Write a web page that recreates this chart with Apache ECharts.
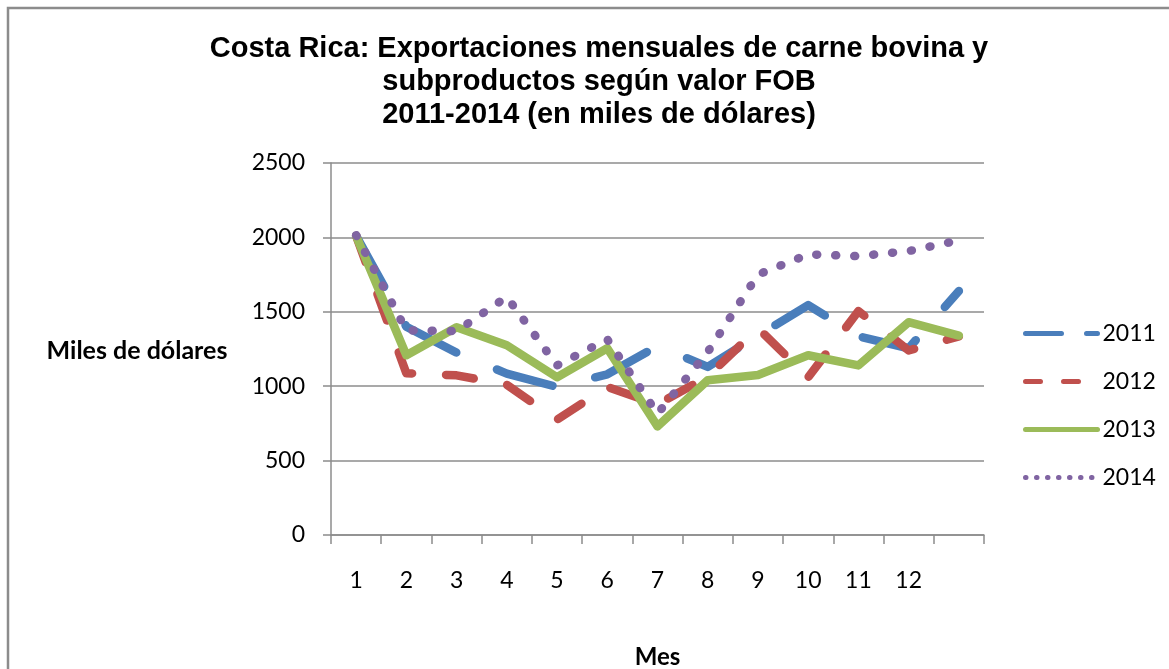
<!DOCTYPE html>
<html>
<head>
<meta charset="utf-8">
<title>Costa Rica: exportaciones de carne bovina</title>
<script src="https://cdn.jsdelivr.net/npm/echarts/dist/echarts.min.js"></script>
<style>
  *{margin: 0; padding: 0;}
  html,body{width: 100%; height: 100%; background: #fff;}
  #chart{width: 1169px; height: 669px;}
</style>
</head>
<body>
<div id="chart"></div>
<script>
// meses (13 posiciones en el eje, la ultima sin etiqueta)
var meses = ['1', '2', '3', '4', '5', '6', '7', '8', '9', '10', '11', '12', '']
var yTicks = [0, 500, 1000, 1500, 2000, 2500]

var datos2011 = [2010, 1400, 1225, 1085, 995, 1080, 1270, 1130, 1340, 1545, 1335, 1255, 1640]
var datos2012 = [2010, 1087, 1073, 1010, 775, 995, 878, 1065, 1390, 1060, 1505, 1240, 1335]
var datos2013 = [2010, 1208, 1396, 1275, 1060, 1255, 730, 1040, 1075, 1208, 1140, 1430, 1340]
var datos2014 = [2015, 1375, 1370, 1600, 1140, 1315, 815, 1230, 1750, 1886, 1874, 1908, 1980]

var colores = ['#4A7EBB', '#C0504D', '#9BBB59', '#8064A2']
var fuente = 'Lato, "Open Sans", sans-serif'

var chart = echarts.init(document.getElementById('chart'))

function serie(nombre, datos, color, dash) {
  return {
    name: nombre,
    type: 'line',
    data: datos,
    symbol: 'none',
    showSymbol: false,
    animation: false,
    lineStyle: {
      color: color,
      width: 8.5,
      type: dash,
      cap: 'round',
      join: 'round'
    },
    itemStyle: { color: color }
  }
}

// icono de leyenda: solo la linea, sin el circulo
var sinSimbolo = { color: 'rgba(0,0,0,0)', borderWidth: 0, opacity: 0 }

var options = {
  backgroundColor: '#fff',
  title: {
    text: 'Costa Rica: Exportaciones mensuales de carne bovina y\nsubproductos según valor FOB\n2011-2014 (en miles de dólares)',
    left: 594,
    top: 27,
    textAlign: 'center',
    textStyle: {
      color: '#000',
      fontFamily: '"Liberation Sans", Arial, sans-serif',
      fontWeight: 'bold',
      fontSize: 29,
      lineHeight: 33
    }
  },
  grid: {
    left: 331,
    right: 185,
    top: 163,
    bottom: 134,
    containLabel: false,
    outerBoundsMode: 'none'
  },
  legend: {
    orient: 'vertical',
    left: 1018,
    top: 317,
    itemWidth: 72,
    itemHeight: 14,
    itemGap: 25,
    textStyle: { color: '#000', fontFamily: fuente, fontSize: 23 },
    data: [
      { name: '2011', itemStyle: sinSimbolo, lineStyle: { width: 5, type: [36, 25], cap: 'round' } },
      { name: '2012', itemStyle: sinSimbolo, lineStyle: { width: 5, type: [15, 23], cap: 'round' } },
      { name: '2013', itemStyle: sinSimbolo, lineStyle: { width: 5, type: 'solid', cap: 'round' } },
      { name: '2014', itemStyle: sinSimbolo, lineStyle: { width: 5, type: [0.5, 10.5], cap: 'round' } }
    ]
  },
  xAxis: {
    type: 'category',
    data: meses,
    boundaryGap: true,
    name: 'Mes',
    nameLocation: 'middle',
    nameGap: 110,
    nameTextStyle: { color: '#000', fontFamily: fuente, fontWeight: 'bold', fontSize: 24 },
    axisLine: { show: true, lineStyle: { color: '#8c8c8c', width: 1.5 } },
    axisTick: { show: true, interval: 0, inside: false, length: 9, lineStyle: { color: '#8c8c8c', width: 1.5 } },
    axisLabel: { interval: 0, margin: 34, color: '#000', fontFamily: fuente, fontSize: 23 },
    splitLine: { show: false }
  },
  yAxis: {
    type: 'value',
    min: yTicks[0],
    max: yTicks[yTicks.length - 1],
    interval: 500,
    axisLine: { show: true, lineStyle: { color: '#8c8c8c', width: 1.5 } },
    axisTick: { show: true, inside: false, length: 8, lineStyle: { color: '#8c8c8c', width: 1.5 } },
    axisLabel: {
      margin: 26,
      color: '#000',
      fontFamily: fuente,
      fontSize: 23,
      formatter: function(v) { return String(v) }
    },
    splitLine: { show: true, lineStyle: { color: '#8c8c8c', width: 1.5, type: 'solid' } }
  },
  graphic: [
    {
      type: 'rect',
      z: -10,
      silent: true,
      shape: { x: 8, y: 8, width: 1200, height: 700 },
      style: { fill: 'none', stroke: '#8c8c8c', lineWidth: 2.5 }
    },
    {
      type: 'text',
      x: 137,
      y: 351,
      style: {
        text: 'Miles de dólares',
        fill: '#000',
        font: 'bold 25px ' + fuente,
        align: 'center',
        verticalAlign: 'middle'
      }
    }
  ],
  series: [
    serie('2011', datos2011, colores[0], [58, 44]),
    serie('2012', datos2012, colores[1], [28, 34]),
    serie('2013', datos2013, colores[2], 'solid'),
    serie('2014', datos2014, colores[3], [1, 18])
  ]
}

chart.setOption(options)
window.addEventListener('resize', () => {
  chart.resize()
}, false)
</script>
</body>
</html>
